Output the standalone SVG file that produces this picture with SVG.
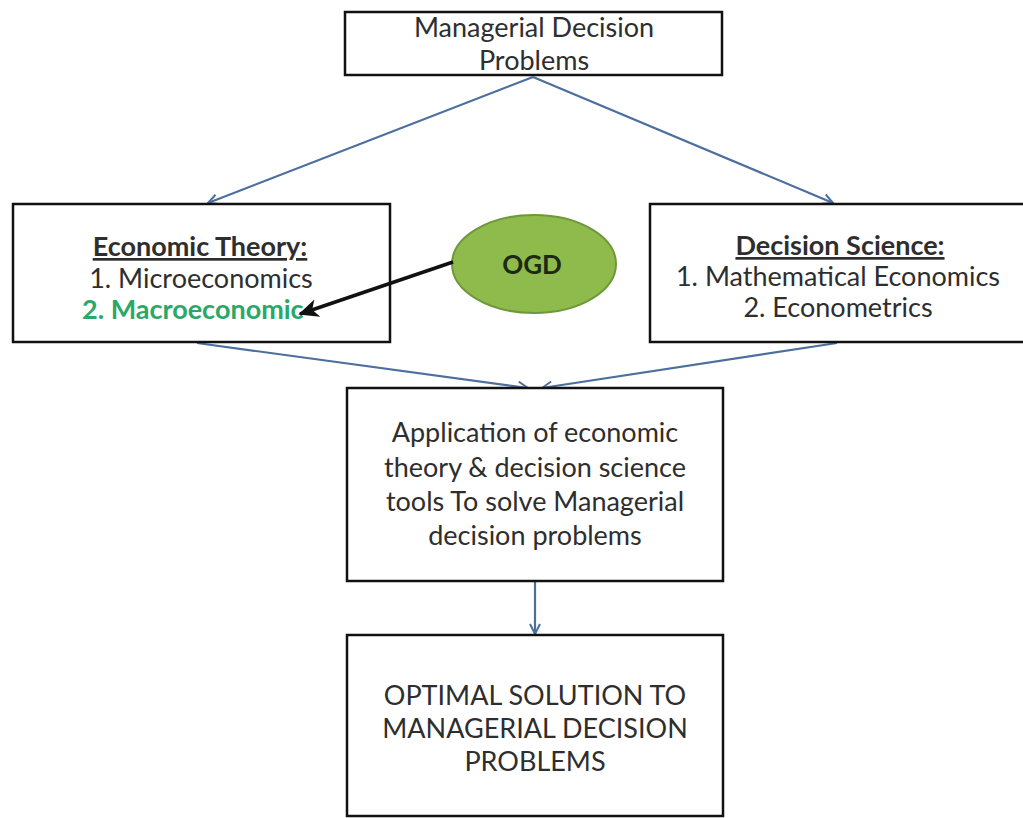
<svg xmlns="http://www.w3.org/2000/svg" width="1023" height="818" viewBox="0 0 1023 818">
<style>
.box{fill:#fff;stroke:#111;stroke-width:2.5}
.t{font-family:Lato,"Open Sans","Liberation Sans",sans-serif;font-size:27px;fill:#2e2e2e;text-anchor:middle}
.b{font-weight:bold}
.u{text-decoration:underline}
.blue{stroke:#4d6f9e;stroke-width:2.2;fill:none}
</style>
<defs>
<marker id="va" viewBox="0 0 12 12" refX="11" refY="6" markerWidth="12" markerHeight="12" markerUnits="userSpaceOnUse" orient="auto">
<path d="M1,1 L11,6 L1,11" fill="none" stroke="#4d6f9e" stroke-width="2"/>
</marker>
<marker id="ka" viewBox="0 0 12 12" refX="10" refY="6" markerWidth="22" markerHeight="22" markerUnits="userSpaceOnUse" orient="auto">
<path d="M0,1 L11,6 L0,11 L3,6 Z" fill="#111"/>
</marker>
</defs>
<rect width="1023" height="818" fill="#fff"/>
<g id="connectors">
<line class="blue" x1="533" y1="77" x2="208" y2="203" marker-end="url(#va)"/>
<line class="blue" x1="533" y1="77" x2="833" y2="203" marker-end="url(#va)"/>
<line class="blue" x1="197" y1="343" x2="528" y2="388" marker-end="url(#va)"/>
<line class="blue" x1="837" y1="343" x2="542" y2="388" marker-end="url(#va)"/>
<line class="blue" x1="535" y1="582" x2="535" y2="634" marker-end="url(#va)"/>
</g>
<g id="n-top">
<rect class="box" x="345" y="12" width="377" height="63"/>
<text class="t" x="534" y="37">Managerial Decision</text>
<text class="t" x="534" y="70">Problems</text>
</g>
<g id="n-econ">
<rect class="box" x="13" y="204" width="377" height="138"/>
<text class="t b u" x="200" y="256">Economic Theory:</text>
<text class="t" x="201" y="288">1. Microeconomics</text>
<text class="t b" x="82" y="319" style="text-anchor:start;fill:#2aa868">2. Macroeconomic</text>
</g>
<g id="n-dec">
<rect class="box" x="650" y="204" width="380" height="138"/>
<text class="t b u" x="840" y="255">Decision Science:</text>
<text class="t" x="838" y="286">1. Mathematical Economics</text>
<text class="t" x="838" y="317">2. Econometrics</text>
</g>
<g id="n-ogd">
<ellipse cx="534" cy="264" rx="82" ry="49" fill="#8fbb4c" stroke="#6e983a" stroke-width="2"/>
<text class="t b" x="532" y="274" style="font-size:26px;fill:#1c2a12">OGD</text>
</g>
<g id="connector-ogd">
<line x1="453" y1="262" x2="300" y2="314" stroke="#111" stroke-width="3.5" marker-end="url(#ka)"/>
</g>
<g id="n-app">
<rect class="box" x="347" y="388" width="376" height="193"/>
<text class="t" x="535" y="442">Application of economic</text>
<text class="t" x="535" y="477">theory &amp; decision science</text>
<text class="t" x="535" y="511">tools To solve Managerial</text>
<text class="t" x="535" y="545">decision problems</text>
</g>
<g id="n-opt">
<rect class="box" x="347" y="635" width="376" height="181"/>
<text class="t" x="535" y="705">OPTIMAL SOLUTION TO</text>
<text class="t" x="535" y="738">MANAGERIAL DECISION</text>
<text class="t" x="535" y="771">PROBLEMS</text>
</g>
</svg>
